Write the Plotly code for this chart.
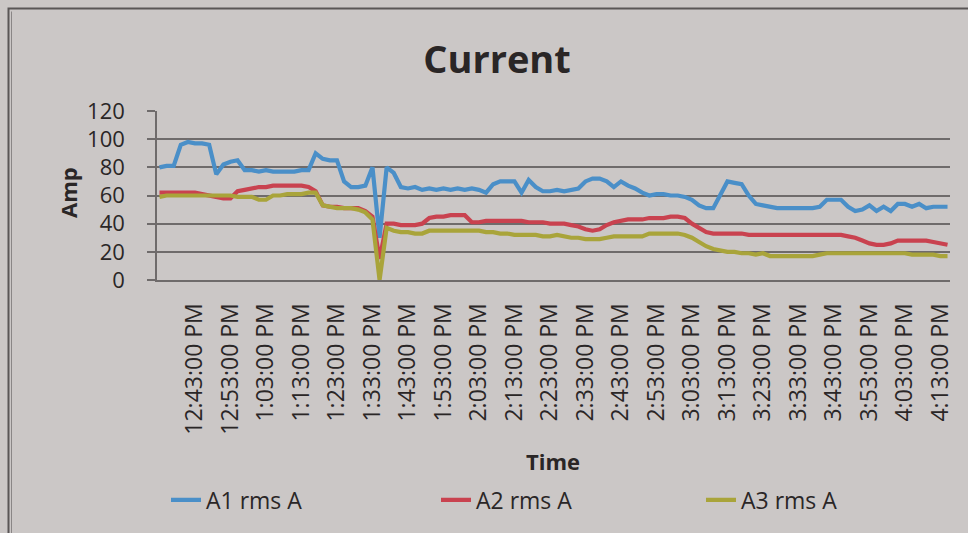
import pandas as pd
import plotly.graph_objects as go

# ---- data (one sample every 2 minutes from 12:33 PM) ----
start_time = "2000-01-01 12:33:00"
step_minutes = 2

a1_rms = [80, 81, 81, 96, 98, 97, 97, 96, 75, 82, 84, 85, 78, 78, 77, 78, 77, 77, 77, 77,
          78, 78, 90, 86, 85, 85, 70, 66, 66, 67, 80, 30, 80, 76, 66, 65, 66, 64, 65, 64,
          65, 64, 65, 64, 65, 64, 62, 68, 70, 70, 70, 62, 71, 66, 63, 63, 64, 63, 64, 65,
          70, 72, 72, 70, 66, 70, 67, 65, 62, 60, 61, 61, 60, 60, 59, 57, 53, 51, 51, 60,
          70, 69, 68, 60, 54, 53, 52, 51, 51, 51, 51, 51, 51, 52, 57, 57, 57, 52, 49, 50,
          53, 49, 52, 49, 54, 54, 52, 54, 51, 52, 52, 52]
a2_rms = [62, 62, 62, 62, 62, 62, 61, 60, 59, 58, 58, 63, 64, 65, 66, 66, 67, 67, 67, 67,
          67, 66, 63, 53, 52, 52, 51, 51, 51, 49, 45, 15, 40, 40, 39, 39, 39, 40, 44, 45,
          45, 46, 46, 46, 41, 41, 42, 42, 42, 42, 42, 42, 41, 41, 41, 40, 40, 40, 39, 38,
          36, 35, 36, 39, 41, 42, 43, 43, 43, 44, 44, 44, 45, 45, 44, 40, 37, 34, 33, 33,
          33, 33, 33, 32, 32, 32, 32, 32, 32, 32, 32, 32, 32, 32, 32, 32, 32, 31, 30, 28,
          26, 25, 25, 26, 28, 28, 28, 28, 28, 27, 26, 25]
a3_rms = [59, 60, 60, 60, 60, 60, 60, 60, 60, 60, 60, 59, 59, 59, 57, 57, 60, 60, 61, 61,
          61, 62, 62, 53, 52, 51, 51, 51, 50, 48, 43, 0, 37, 35, 34, 34, 33, 33, 35, 35,
          35, 35, 35, 35, 35, 35, 34, 34, 33, 33, 32, 32, 32, 32, 31, 31, 32, 31, 30, 30,
          29, 29, 29, 30, 31, 31, 31, 31, 31, 33, 33, 33, 33, 33, 32, 30, 27, 24, 22, 21,
          20, 20, 19, 19, 18, 19, 17, 17, 17, 17, 17, 17, 17, 18, 19, 19, 19, 19, 19, 19,
          19, 19, 19, 19, 19, 19, 18, 18, 18, 18, 17, 17]

tick_times = ["12:43", "12:53", "13:03", "13:13", "13:23", "13:33", "13:43", "13:53",
              "14:03", "14:13", "14:23", "14:33", "14:43", "14:53", "15:03", "15:13",
              "15:23", "15:33", "15:43", "15:53", "16:03", "16:13"]
tick_labels = ["12:43:00 PM", "12:53:00 PM", "1:03:00 PM", "1:13:00 PM", "1:23:00 PM",
               "1:33:00 PM", "1:43:00 PM", "1:53:00 PM", "2:03:00 PM", "2:13:00 PM",
               "2:23:00 PM", "2:33:00 PM", "2:43:00 PM", "2:53:00 PM", "3:03:00 PM",
               "3:13:00 PM", "3:23:00 PM", "3:33:00 PM", "3:43:00 PM", "3:53:00 PM",
               "4:03:00 PM", "4:13:00 PM"]

y_ticks = [0, 20, 40, 60, 80, 100, 120]

times = pd.date_range(start=start_time, periods=len(a1_rms), freq=f"{step_minutes}min")
tick_vals = [pd.Timestamp("2000-01-01 " + t + ":00") for t in tick_times]

BG = "#cbc7c6"
GRID = "#6f6b6b"
FONT = "Open Sans"
TXT = "#2a2626"

W, H = 968, 533
L, R, T, B = 157, 18, 111, 253
pw, ph = W - L - R, H - T - B

def px_x(px):
    return (px - L) / pw

def px_y(py):
    return (H - B - py) / ph

series = [("A1 rms A", a1_rms, "#4a8fc8", "legend", 166),
          ("A2 rms A", a2_rms, "#c9424f", "legend2", 436),
          ("A3 rms A", a3_rms, "#a9a43a", "legend3", 701)]

fig = go.Figure()
legends = {}
for name, vals, col, lg, lx in series:
    fig.add_trace(go.Scatter(x=times, y=vals, mode="lines", name=name, legend=lg,
                             line=dict(color=col, width=4.2)))
    legends[lg] = dict(orientation="h", x=px_x(lx), y=px_y(500), xanchor="left",
                       yanchor="middle", bgcolor="rgba(0,0,0,0)",
                       font=dict(family=FONT, size=23, color=TXT))

x0 = pd.Timestamp(start_time) - pd.Timedelta(seconds=42)
x1 = pd.Timestamp(start_time) + pd.Timedelta(minutes=222, seconds=42)

fig.update_layout(
    width=W, height=H,
    paper_bgcolor=BG, plot_bgcolor=BG,
    margin=dict(l=L, r=R, t=T, b=B, autoexpand=False),
    font=dict(family=FONT, color=TXT, size=20),
    title=dict(text="<b>Current</b>", x=497 / W, y=1 - 60 / H, xref="container",
               yref="container", xanchor="center", yanchor="middle",
               font=dict(family=FONT, size=38, color=TXT)),
    showlegend=True,
    xaxis=dict(type="date", range=[x0, x1], tickmode="array", tickvals=tick_vals,
               ticktext=tick_labels, tickangle=-90, showgrid=False, zeroline=False,
               showline=True, linecolor=GRID, linewidth=2, ticks="",
               ticklabelstandoff=12, automargin=False,
               tickfont=dict(family=FONT, size=23, color=TXT)),
    yaxis=dict(range=[0, 120], tickmode="array", tickvals=y_ticks, showgrid=True,
               gridcolor=GRID, gridwidth=1.6, zeroline=False, showline=True,
               linecolor=GRID, linewidth=1.6, ticks="outside", ticklen=8,
               tickcolor=GRID, tickwidth=1.6, ticklabelstandoff=18, automargin=False,
               tickfont=dict(family=FONT, size=22, color=TXT)),
    annotations=[
        dict(text="<b>Amp</b>", xref="paper", yref="paper", x=px_x(68), y=px_y(193),
             xanchor="center", yanchor="middle",
             textangle=-90, showarrow=False, font=dict(family=FONT, size=22, color=TXT)),
        dict(text="<b>Time</b>", xref="paper", yref="paper", x=px_x(553), y=px_y(461),
             xanchor="center", yanchor="middle",
             showarrow=False, font=dict(family=FONT, size=22, color=TXT)),
    ],
    shapes=[
        dict(type="rect", xref="paper", yref="paper", x0=px_x(8.5), x1=px_x(990),
             y0=px_y(560), y1=px_y(8.5), line=dict(color="#5a5656", width=2),
             fillcolor="rgba(0,0,0,0)", layer="below"),
        dict(type="line", xref="paper", yref="paper", x0=px_x(11.5), x1=px_x(11.5),
             y0=px_y(560), y1=px_y(11.5), line=dict(color="#8a8686", width=1),
             layer="below"),
    ],
    **legends,
)

fig.write_html("out.html", config={"displayModeBar": False},
               post_script="document.body.style.margin='0';document.body.style.background='%s';" % BG)
